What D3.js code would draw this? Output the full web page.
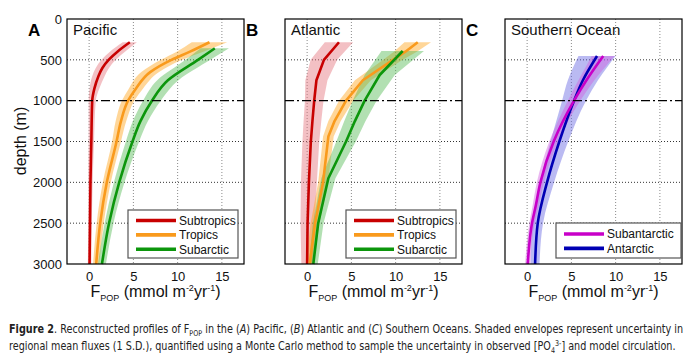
<!DOCTYPE html>
<html>
<head>
<meta charset="utf-8">
<script src="https://cdn.jsdelivr.net/npm/d3@7"></script>
<style>
body{margin:0;background:#fff;}
svg{display:block;font-family:"Liberation Sans",Arial,Helvetica,sans-serif;}
</style>
</head>
<body>
<svg id="chart" width="700" height="364"></svg>
<script>
// ticks
var depthTicks = [0, 500, 1000, 1500, 2000, 2500, 3000];
var fluxTicks = [0, 5, 10, 15];
var gridDepths = [500, 1500, 2000, 2500];

// A - Pacific
var pacSubtropDepth = [285, 400, 500, 600, 700, 850, 1000, 1500, 2000, 2500, 3000];
var pacSubtropMean  = [4.6, 3.2, 2.2, 1.5, 1.05, 0.6, 0.35, 0.25, 0.15, 0.1, 0.05];
var pacSubtropSd    = [0.8, 0.85, 0.8, 0.75, 0.7, 0.55, 0.4, 0.3, 0.25, 0.2, 0.2];
var pacTropDepth = [285, 400, 500, 650, 850, 1000, 1250, 1500, 2000, 2500, 3000];
var pacTropMean  = [13.6, 11.4, 9.3, 6.9, 5.3, 4.4, 3.6, 3.1, 2.0, 1.25, 0.8];
var pacTropSd    = [2.0, 1.5, 1.2, 1.0, 0.8, 0.7, 0.6, 0.5, 0.45, 0.4, 0.35];
var pacSubarcDepth = [359, 500, 750, 1000, 1250, 1500, 2000, 2500, 3000];
var pacSubarcMean  = [14.2, 12.3, 8.9, 7.1, 5.8, 4.9, 3.4, 2.25, 1.45];
var pacSubarcSd    = [1.6, 1.4, 1.2, 1.0, 0.85, 0.75, 0.6, 0.5, 0.45];

// B - Atlantic
var atlSubtropDepth = [285, 500, 750, 1000, 1250, 1500, 2000, 2500, 3000];
var atlSubtropMean  = [3.6, 1.9, 1.05, 0.8, 0.6, 0.42, 0.2, 0.05, 0.0];
var atlSubtropSd    = [1.6, 1.5, 1.25, 1.05, 1.0, 0.95, 0.9, 0.8, 0.65];
var atlTropDepth = [285, 400, 500, 750, 1000, 1250, 1440, 2000, 2500, 3000];
var atlTropMean  = [12.5, 11.1, 9.7, 6.3, 4.4, 3.1, 2.4, 1.8, 0.9, 0.3];
var atlTropSd    = [1.5, 1.3, 1.1, 0.9, 0.8, 0.7, 0.6, 0.55, 0.5, 0.45];
var atlSubarcDepth = [392, 686, 1000, 1250, 1500, 1950, 2500, 3000];
var atlSubarcMean  = [10.8, 8.2, 6.5, 5.4, 4.4, 2.4, 1.25, 0.7];
var atlSubarcSd    = [2.4, 1.7, 1.35, 1.2, 1.1, 0.8, 0.6, 0.5];

// C - Southern Ocean
var soSubantDepth = [453, 750, 1000, 1500, 2000, 2300, 2500, 3000];
var soSubantMean  = [8.6, 6.7, 5.3, 3.0, 1.5, 0.95, 0.55, 0.07];
var soSubantSd    = [1.3, 0.9, 0.7, 0.5, 0.4, 0.35, 0.3, 0.3];
var soAntDepth = [453, 750, 1000, 1500, 2000, 2500, 3000];
var soAntMean  = [7.9, 6.3, 5.3, 3.64, 2.25, 1.2, 0.9];
var soAntSd    = [2.1, 1.7, 1.35, 1.0, 0.8, 0.6, 0.5];

var colRed = "#c80000", colOrange = "#f99a1c", colGreen = "#0c960c",
    colMagenta = "#c800c8", colBlue = "#0000b4";

function mk(name, color, band, depth, mean, sd){
    return {name:name, color:color, band:band,
        pts: depth.map(function(d,i){ return {d:d, m:mean[i], s:sd[i]}; })};
}

var svg = d3.select("#chart");
svg.append("rect").attr("width",700).attr("height",364).attr("fill","#fff");

var y = d3.scaleLinear().domain([0,3000]).range([19,264]);
var FONT = "Liberation Sans, Arial, sans-serif";

// mixed text with sub/superscripts
function rich(t, parts){
    parts.forEach(function(p){
        var ts = t.append("tspan").text(p[0]);
        var o = p[1] || {};
        if(o.b) ts.attr("font-weight","bold");
        if(o.i) ts.attr("font-style","italic");
        if(o.fs) ts.attr("font-size",o.fs);
        if(o.dy) ts.attr("dy",o.dy);
    });
}

function drawPanel(left, letter, title, series, lg, curve, showY){
    var x = d3.scaleLinear().domain([-2.5,17.5]).range([left,left+177]);
    var g = svg.append("g");

    // grid
    g.selectAll("line.vg").data(fluxTicks).enter().append("line")
        .attr("x1",function(d){return x(d);}).attr("x2",function(d){return x(d);})
        .attr("y1",y(0)).attr("y2",y(3000))
        .attr("stroke","#8a8a8a").attr("stroke-width",1).attr("stroke-dasharray","1,2");
    g.selectAll("line.hg").data(gridDepths).enter().append("line")
        .attr("x1",x(-2.5)).attr("x2",x(17.5))
        .attr("y1",function(d){return y(d);}).attr("y2",function(d){return y(d);})
        .attr("stroke","#333").attr("stroke-width",1).attr("stroke-dasharray","1,2");

    var area = d3.area().curve(curve)
        .y(function(p){return y(p.d);})
        .x0(function(p){return x(p.m-p.s);})
        .x1(function(p){return x(p.m+p.s);});
    var line = d3.line().curve(curve)
        .y(function(p){return y(p.d);})
        .x(function(p){return x(p.m);});

    series.forEach(function(s){
        g.append("path").attr("d",area(s.pts)).attr("fill",s.band).attr("fill-opacity",0.45);
    });
    series.forEach(function(s){
        g.append("path").attr("d",line(s.pts)).attr("fill","none")
            .attr("stroke",s.color).attr("stroke-width",2.6).attr("stroke-linejoin","round");
    });

    // dash-dot line at 1000 m
    g.append("line").attr("x1",x(-2.5)).attr("x2",x(17.5)).attr("y1",y(1000)).attr("y2",y(1000))
        .attr("stroke","#000").attr("stroke-width",1.4).attr("stroke-dasharray","9,3,2,3");

    // box
    g.append("rect").attr("x",x(-2.5)).attr("y",y(0)).attr("width",177).attr("height",y(3000)-y(0))
        .attr("fill","none").attr("stroke","#000").attr("stroke-width",1.2);

    // x axis
    var xa = g.append("g").attr("transform","translate(0,"+(y(3000)+4)+")")
        .attr("font-family",FONT)
        .call(d3.axisBottom(x).tickValues(fluxTicks).tickSize(0).tickPadding(4).tickFormat(d3.format("d")));
    xa.attr("font-family",FONT);
    xa.select(".domain").remove();
    xa.selectAll("text").attr("font-size",13).attr("fill","#111");

    if(showY){
        var ya = g.append("g").attr("transform","translate("+(x(-2.5)-1)+",0)")
            .call(d3.axisLeft(y).tickValues(depthTicks).tickSize(0).tickPadding(4).tickFormat(d3.format("d")));
        ya.attr("font-family",FONT);
        ya.select(".domain").remove();
        ya.selectAll("text").attr("font-size",13).attr("fill","#111");
        g.append("text").attr("transform","translate(26,141) rotate(-90)")
            .attr("text-anchor","middle").attr("font-size",16).attr("fill","#111")
            .text("depth (m)");
    }

    // x label
    var xl = g.append("text").attr("x",x(7.5)).attr("y",297)
        .attr("text-anchor","middle").attr("font-size",16).attr("fill","#111");
    rich(xl, [["F"],["POP",{fs:9,dy:4}],[" (mmol m",{dy:-4}],["-2",{fs:9,dy:-6}],
        ["yr",{dy:6}],["-1",{fs:9,dy:-6}],[")",{dy:6}]]);

    // panel letter + title
    g.append("text").attr("x",x(-2.5)-39).attr("y",36).attr("font-size",17)
        .attr("font-weight","bold").attr("fill","#000").text(letter);
    g.append("text").attr("x",x(-2.5)+6).attr("y",35).attr("font-size",15)
        .attr("fill","#111").text(title);

    // legend
    g.append("rect").attr("x",lg.x).attr("y",lg.y).attr("width",lg.w).attr("height",lg.h)
        .attr("fill","#fff").attr("stroke","#555").attr("stroke-width",1.2);
    var order = lg.order.map(function(i){return series[i];});
    order.forEach(function(s,i){
        var ry = lg.y + lg.r0 + i*14.4;
        g.append("line").attr("x1",lg.x+8).attr("x2",lg.x+48).attr("y1",ry).attr("y2",ry)
            .attr("stroke",s.color).attr("stroke-width",3.6);
        g.append("text").attr("x",lg.x+51).attr("y",ry+4.3).attr("font-size",12)
            .attr("fill","#111").text(s.name);
    });
}

var pac = [
    mk("Subtropics", colRed, "#e5737c", pacSubtropDepth, pacSubtropMean, pacSubtropSd),
    mk("Tropics", colOrange, "#ffa31a", pacTropDepth, pacTropMean, pacTropSd),
    mk("Subarctic", colGreen, "#55bb55", pacSubarcDepth, pacSubarcMean, pacSubarcSd)
];
var atl = [
    mk("Subtropics", colRed, "#e5737c", atlSubtropDepth, atlSubtropMean, atlSubtropSd),
    mk("Tropics", colOrange, "#ffa31a", atlTropDepth, atlTropMean, atlTropSd),
    mk("Subarctic", colGreen, "#55bb55", atlSubarcDepth, atlSubarcMean, atlSubarcSd)
];
var so = [
    mk("Antarctic", colBlue, "#6565e2", soAntDepth, soAntMean, soAntSd),
    mk("Subantarctic", colMagenta, "#d060e0", soSubantDepth, soSubantMean, soSubantSd)
];

drawPanel(67, "A", "Pacific", pac, {x:128,y:210,w:110,h:48,r0:10.5,order:[0,1,2]}, d3.curveMonotoneY, true);
drawPanel(285, "B", "Atlantic", atl, {x:346,y:210,w:110,h:48,r0:10.5,order:[0,1,2]}, d3.curveLinear, false);
drawPanel(505, "C", "Southern Ocean", so, {x:556,y:223,w:125,h:35,r0:11,order:[1,0]}, d3.curveMonotoneY, false);

// caption, squeezed horizontally to the reference width
function caption(yy, width, parts){
    var t = svg.append("text").attr("x",0).attr("y",0).attr("font-size",12).attr("fill","#222")
        .attr("font-family","Liberation Sans Narrow, DejaVu Sans Condensed, Arial Narrow, sans-serif");
    rich(t, parts);
    var w = t.node().getBBox().width;
    t.attr("transform","translate(9,"+yy+") scale("+(width/w)+",1)");
}
caption(333, 675, [["Figure 2",{b:true}],[". Reconstructed profiles of F"],["POP",{fs:8,dy:3}],
    [" in the (",{dy:-3}],["A",{i:true}],[") Pacific, ("],["B",{i:true}],[") Atlantic and ("],
    ["C",{i:true}],[") Southern Oceans. Shaded envelopes represent uncertainty in"]]);
caption(350, 667, [["regional mean fluxes (1 S.D.), quantified using a Monte Carlo method to sample the uncertainty in observed [PO"],
    ["4",{fs:8,dy:3}],["3-",{fs:8,dy:-7}],["] and model circulation.",{dy:4}]]);
</script>
</body>
</html>
